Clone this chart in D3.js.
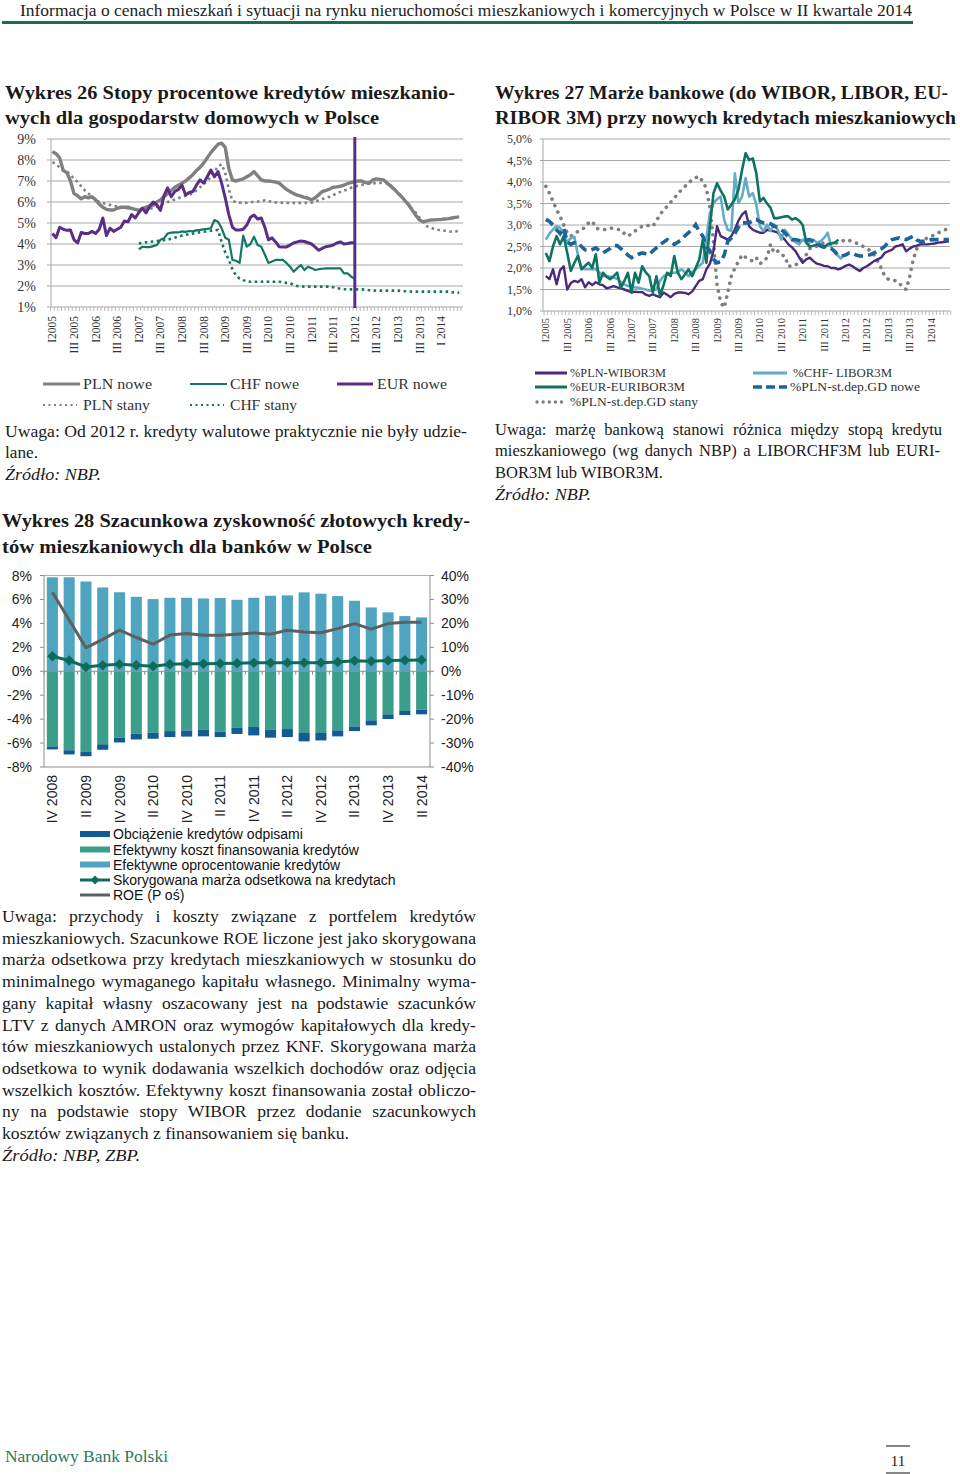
<!DOCTYPE html>
<html><head><meta charset="utf-8">
<script src="https://cdn.jsdelivr.net/npm/d3@7"></script>
<style>body{margin:0;background:#fff}svg{display:block}</style>
</head><body>
<svg id="c" width="960" height="1474"></svg>
<script>
// ---------- DATA ----------
// Chart 26 (monthly, Jan 2005 = index 0)
const labels26 = ["I2005","III 2005","I2006","III 2006","I2007","III 2007","I2008","III 2008","I2009","III 2009","I2010","III 2010","I2011","III 2011","I2012","III 2012","I2013","III 2013","I 2014"];
const yTicks26 = [1,2,3,4,5,6,7,8,9];
const plnNowe = [8.4,8.3,8.1,7.5,7.4,7.0,6.4,6.3,6.15,6.25,
 6.2,6.25,6.1,5.9,5.75,5.65,5.62,5.62,5.7,5.75,
 5.75,5.75,5.7,5.65,5.6,5.7,5.75,5.8,5.85,6.0,
 6.1,6.25,6.4,6.55,6.7,6.8,6.9,7.0,7.15,7.3,
 7.5,7.65,7.85,8.1,8.35,8.55,8.75,8.8,8.6,7.6,
 7.05,7.0,7.05,7.1,7.2,7.3,7.45,7.25,7.05,7.0,
 7.0,6.98,6.95,6.9,6.75,6.6,6.5,6.4,6.33,6.28,
 6.22,6.18,6.1,6.2,6.35,6.5,6.55,6.62,6.7,6.72,
 6.75,6.8,6.88,6.93,6.97,7.0,7.0,6.92,6.9,7.05,
 7.1,7.08,7.05,6.9,6.75,6.6,6.42,6.25,6.05,5.86,
 5.6,5.35,5.14,5.06,5.1,5.14,5.15,5.16,5.17,5.19,
 5.21,5.24,5.27,5.29];
const plnStany = [7.9,7.8,7.65,7.5,7.45,7.3,7.1,6.95,6.75,6.55,
 6.4,6.25,6.1,6.0,5.95,5.9,5.86,5.82,5.78,5.75,
 5.72,5.7,5.68,5.65,5.62,5.62,5.65,5.68,5.72,5.78,
 5.85,5.92,6.0,6.06,6.12,6.18,6.25,6.3,6.35,6.42,
 6.55,6.7,6.85,7.0,7.2,7.45,7.7,7.8,7.4,6.6,
 6.05,6.0,5.97,5.95,5.97,6.0,6.0,6.02,6.05,6.08,
 6.05,6.0,5.98,5.97,5.97,5.96,5.96,5.96,5.96,5.96,
 5.96,5.96,5.97,6.02,6.08,6.14,6.2,6.25,6.33,6.41,
 6.48,6.55,6.6,6.68,6.74,6.78,6.82,6.85,6.87,6.89,
 6.9,6.91,6.92,6.9,6.8,6.62,6.45,6.28,6.05,5.85,
 5.65,5.48,5.25,5.05,4.85,4.78,4.72,4.68,4.66,4.63,
 4.6,4.58,4.6,4.64];
const eurNowe = [4.5,4.3,4.8,4.7,4.65,4.67,4.2,4.05,4.55,4.5,
 4.5,4.6,4.5,4.7,5.24,4.4,4.75,4.6,4.7,4.8,
 5.1,5.06,5.4,5.24,5.5,5.7,5.48,5.8,6.0,5.86,
 5.6,6.3,6.67,6.25,6.5,6.6,6.8,6.33,6.45,6.5,
 6.8,7.05,6.9,7.2,7.52,7.2,7.45,6.9,6.2,5.4,
 4.8,4.67,4.67,4.7,4.9,5.27,5.38,5.19,5.24,4.8,
 4.2,4.29,4.1,3.87,3.86,3.86,3.95,4.05,4.1,4.14,
 4.12,4.06,4.0,3.85,3.7,3.8,3.87,3.9,3.95,4.05,
 4.1,4.0,4.02,4.06,4.06];
const chfStart26 = 24;
const chfNowe = [3.75,3.87,3.85,3.85,3.9,3.95,4.2,4.27,4.5,4.54,
 4.55,4.55,4.6,4.58,4.62,4.6,4.65,4.67,4.7,4.72,
 4.75,5.14,5.06,4.75,4.3,4.2,3.24,3.2,3.1,4.4,
 3.87,4.0,4.35,3.95,3.87,3.5,3.1,3.17,3.24,3.24,
 3.24,3.1,2.92,2.68,2.85,3.0,2.76,2.92,2.85,2.76,
 2.8,2.82,2.84,2.84,2.84,2.84,2.84,2.6,2.6,2.45,
 2.33];
const chfStany = [4.03,4.05,4.08,4.1,4.12,4.14,4.16,4.18,4.2,4.25,
 4.3,4.35,4.4,4.44,4.47,4.5,4.53,4.56,4.58,4.6,
 4.63,4.65,4.67,4.1,3.6,3.24,2.8,2.5,2.35,2.28,
 2.22,2.2,2.2,2.2,2.2,2.22,2.2,2.2,2.2,2.2,
 2.18,2.15,2.14,2.05,2.0,1.98,1.97,1.97,1.97,1.97,
 1.97,1.97,1.97,1.97,1.94,1.9,1.87,1.85,1.84,1.84,
 1.84,1.84,1.84,1.82,1.8,1.79,1.78,1.78,1.78,1.78,
 1.78,1.78,1.78,1.76,1.75,1.74,1.73,1.73,1.73,1.73,
 1.73,1.73,1.73,1.73,1.73,1.73,1.73,1.7,1.69,1.68];
const markerMonth26 = 84; // I 2012

// Chart 27 (monthly, Jan 2005 = index 0)
const labels27 = ["I2005","III 2005","I2006","III 2006","I2007","III 2007","I2008","III 2008","I2009","III 2009","I2010","III 2010","I2011","III 2011","I2012","III 2012","I2013","III 2013","I2014"];
const yTicks27 = [1,1.5,2,2.5,3,3.5,4,4.5,5];
const wibor = [1.81,1.74,1.97,1.62,1.95,2.04,1.5,1.65,1.7,1.67,
 1.74,1.55,1.67,1.6,1.67,1.62,1.6,1.53,1.55,1.58,
 1.55,1.53,1.5,1.47,1.43,1.45,1.44,1.44,1.38,1.35,
 1.39,1.35,1.32,1.43,1.38,1.32,1.4,1.43,1.43,1.42,
 1.39,1.45,1.58,1.7,1.74,1.97,2.1,2.4,2.97,2.74,
 2.7,2.66,2.74,2.9,3.1,3.24,3.32,2.97,2.89,2.85,
 2.82,2.82,2.89,2.87,2.85,2.82,2.75,2.66,2.55,2.48,
 2.39,2.25,2.12,2.2,2.24,2.16,2.1,2.08,2.05,2.04,
 2.0,2.0,1.97,2.0,2.05,2.08,2.04,1.98,1.93,2.0,
 2.04,2.1,2.16,2.2,2.24,2.35,2.39,2.42,2.5,2.52,
 2.55,2.39,2.45,2.5,2.52,2.55,2.55,2.55,2.56,2.57,
 2.59,2.6,2.61,2.62];
const libor = [2.66,2.8,2.9,2.97,2.93,2.8,2.59,2.7,2.72,2.3,
 2.0,1.97,1.97,1.97,1.97,1.9,1.81,1.81,1.8,1.78,
 1.75,1.68,1.62,1.58,1.57,1.55,1.54,1.52,1.5,1.47,
 1.48,1.5,1.7,1.81,1.85,1.89,1.89,1.9,1.97,1.9,
 1.81,1.9,1.97,2.05,2.12,2.7,3.28,3.51,3.6,3.66,
 3.12,2.89,2.86,4.2,3.51,3.66,4.09,3.66,3.74,3.47,
 2.97,2.86,3.01,2.86,3.01,2.89,2.66,2.89,2.78,2.66,
 2.6,2.55,2.66,2.6,2.59,2.66,2.59,2.62,2.7,2.82,
 2.5,2.35,2.28,2.2];
const euribor = [2.35,2.16,2.5,2.74,2.55,2.74,2.35,1.93,2.12,2.28,
 1.97,2.05,2.12,2.0,2.32,1.66,1.89,1.8,1.74,1.81,
 1.89,1.54,1.7,1.89,1.43,1.89,1.66,2.04,1.9,1.81,
 1.43,1.81,1.35,1.6,1.89,1.81,2.28,1.89,1.74,1.85,
 1.97,1.81,2.0,2.2,2.66,2.12,2.97,3.74,3.97,3.8,
 3.66,3.36,3.47,3.6,3.82,4.28,4.67,4.51,4.55,4.2,
 3.55,3.63,3.5,3.4,3.16,3.16,3.18,3.2,3.2,3.13,
 3.16,3.1,3.0,2.59,2.5,2.52,2.55,2.5,2.47,2.55,
 2.57,2.59,2.66];
const gdNowe = [3.13,3.08,3.0,2.89,2.8,2.93,2.6,2.55,2.59,2.59,
 2.5,2.42,2.4,2.43,2.47,2.4,2.35,2.4,2.45,2.52,
 2.52,2.45,2.38,2.3,2.24,2.28,2.32,2.35,2.33,2.31,
 2.4,2.47,2.55,2.6,2.66,2.6,2.55,2.6,2.66,2.75,
 2.82,2.9,3.01,2.85,2.74,2.5,2.4,2.2,2.12,2.14,
 2.3,2.62,2.7,2.8,2.95,3.05,3.05,3.05,3.1,3.13,
 3.08,3.05,3.05,3.03,2.97,2.95,2.89,2.82,2.72,2.66,
 2.66,2.64,2.62,2.65,2.66,2.62,2.59,2.52,2.5,2.5,
 2.45,2.39,2.28,2.28,2.3,2.35,2.35,2.3,2.28,2.28,
 2.3,2.31,2.35,2.39,2.44,2.5,2.6,2.66,2.68,2.7,
 2.68,2.66,2.7,2.74,2.65,2.62,2.62,2.64,2.66,2.66,
 2.66,2.66,2.66,2.66];
const gdStany = [3.9,3.74,3.55,3.36,3.2,3.0,2.82,2.74,2.8,2.85,
 2.89,2.95,3.05,3.09,2.93,2.9,2.89,2.9,2.93,2.92,
 2.9,2.89,2.8,2.74,2.8,2.86,2.92,2.97,3.0,2.98,
 2.97,3.1,3.24,3.35,3.43,3.53,3.63,3.72,3.82,3.9,
 3.97,4.06,4.1,4.13,4.0,3.86,3.4,2.6,1.6,1.2,
 1.08,1.43,1.81,2.0,2.15,2.31,2.25,2.2,2.16,2.24,
 2.1,2.15,2.24,2.55,2.35,2.39,2.3,2.28,2.04,2.05,
 2.06,2.16,2.2,2.31,2.45,2.5,2.5,2.55,2.59,2.57,
 2.55,2.57,2.59,2.62,2.66,2.64,2.62,2.58,2.55,2.5,
 2.45,2.4,2.3,2.16,2.0,1.81,1.74,1.74,1.7,1.66,
 1.55,1.5,1.8,2.2,2.45,2.55,2.66,2.7,2.74,2.77,
 2.82,2.85,2.89,2.92];

// Chart 28 (quarterly)
const cats28 = ["IV 2008","I 2009","II 2009","III 2009","IV 2009","I 2010","II 2010","III 2010","IV 2010","I 2011","II 2011","III 2011","IV 2011","I 2012","II 2012","III 2012","IV 2012","I 2013","II 2013","III 2013","IV 2013","I 2014","II 2014"];
const oprocentowanie = [7.85,7.85,7.5,7.0,6.6,6.22,6.03,6.14,6.14,6.08,6.12,5.97,6.14,6.31,6.34,6.59,6.48,6.28,5.89,5.33,4.92,4.61,4.5];
const kosztFin = [-6.28,-6.6,-6.74,-6.1,-5.55,-5.22,-5.13,-5.0,-4.96,-4.9,-5.05,-4.7,-4.66,-4.89,-4.83,-5.16,-5.16,-4.94,-4.61,-4.1,-3.6,-3.32,-3.21];
const odpisy = [-0.25,-0.35,-0.36,-0.46,-0.4,-0.48,-0.51,-0.5,-0.5,-0.54,-0.45,-0.54,-0.7,-0.66,-0.67,-0.7,-0.62,-0.5,-0.39,-0.42,-0.39,-0.34,-0.39];
const marza = [1.25,0.9,0.36,0.5,0.58,0.5,0.42,0.58,0.62,0.62,0.64,0.66,0.7,0.7,0.72,0.72,0.72,0.78,0.88,0.84,0.9,0.92,0.95];
const roe = [33,21.4,9.8,13.3,17.2,14.1,11.3,15.1,15.8,15,15,15.5,16,15.5,17.1,16.4,16.1,17.8,19.9,17.6,19.9,20.5,20.5];
const yTicksL28 = [-8,-6,-4,-2,0,2,4,6,8];
const yTicksR28 = [-40,-30,-20,-10,0,10,20,30,40];

// ---------- DRAWING ----------
const SERIF = "'Liberation Serif','Times New Roman',serif";
const SANS = "'Liberation Sans',Arial,sans-serif";
const svg = d3.select('#c');
svg.append('rect').attr('width',960).attr('height',1474).attr('fill','#fff');

function T(x,y,s,o={}){
  const t = svg.append('text').attr('x',x).attr('y',y).text(s)
    .attr('font-family',o.f||SERIF).attr('font-size',o.s||16).attr('fill',o.c||'#1a1a1a');
  if(o.w) t.attr('font-weight',o.w);
  if(o.i) t.attr('font-style','italic');
  if(o.a) t.attr('text-anchor',o.a);
  if(o.len) t.attr('textLength',o.len).attr('lengthAdjust','spacingAndGlyphs');
  return t;
}
function J(x,y,s,W,k,o={}){
  const t = T(0,0,s,o).attr('transform',`translate(${x},${y}) scale(${k},1)`);
  const w0 = t.node().getComputedTextLength();
  const n = (s.match(/ /g)||[]).length;
  if(n) t.attr('word-spacing',(W/k - w0)/n);
  return t;
}
function kFor(s,W,o={}){
  const t = T(0,0,s,o); const w = t.node().getComputedTextLength(); t.remove(); return W/w;
}

// Header
T(20,16,"Informacja o cenach mieszkań i sytuacji na rynku nieruchomości mieszkaniowych i komercyjnych w Polsce w II kwartale 2014",{s:17,len:892,c:'#222'});
svg.append('line').attr('x1',2).attr('x2',913).attr('y1',22.5).attr('y2',22.5).attr('stroke','#1d6b50').attr('stroke-width',3);

// Titles
T(5,99,"Wykres 26 Stopy procentowe kredytów mieszkanio-",{s:19,w:'bold',len:450});
T(5,124,"wych dla gospodarstw domowych w Polsce",{s:19,w:'bold',len:374});
T(495,99,"Wykres 27 Marże bankowe (do WIBOR, LIBOR, EU-",{s:19,w:'bold',len:453});
T(495,124,"RIBOR 3M) przy nowych kredytach mieszkaniowych",{s:19,w:'bold',len:461});
T(2,527,"Wykres 28 Szacunkowa zyskowność złotowych kredy-",{s:19,w:'bold',len:468});
T(2,553,"tów mieszkaniowych dla banków w Polsce",{s:19,w:'bold',len:370});

// ---------- Chart 26 ----------
const x26 = d3.scaleLinear().domain([-0.4,114]).range([51,462.8]);
const y26 = d3.scaleLinear().domain([1,9]).range([307,139]);
const g26 = svg.append('g');
g26.selectAll('.gr').data(yTicks26).join('line')
  .attr('x1',47).attr('x2',463).attr('y1',d=>y26(d)).attr('y2',d=>y26(d))
  .attr('stroke','#a8a8a8').attr('stroke-width',1);
g26.append('line').attr('x1',51).attr('x2',51).attr('y1',139).attr('y2',307).attr('stroke','#a8a8a8');
g26.selectAll('.mt').data(d3.range(0,115)).join('line')
  .attr('x1',d=>x26(d-0.5)).attr('x2',d=>x26(d-0.5)).attr('y1',307).attr('y2',311)
  .attr('stroke','#a8a8a8').attr('stroke-width',0.8);
g26.selectAll('.yl').data(yTicks26).join('text')
  .attr('x',36).attr('y',d=>y26(d)).attr('dy','0.35em').attr('text-anchor','end')
  .attr('font-family',SERIF).attr('font-size',14).attr('fill','#333').text(d=>d+'%');
g26.selectAll('.xl').data(labels26).join('text')
  .attr('transform',(d,i)=>`translate(${x26(i*6)+4},316) rotate(-90)`)
  .attr('text-anchor','end').attr('font-family',SERIF).attr('font-size',11.5).attr('fill','#333').text(d=>d);

const line26 = (start)=>d3.line().defined(d=>d!=null).x((d,i)=>x26(i+start)).y(d=>y26(d));
const C26 = {gray:'#808080', teal:'#137764', purple:'#5a2d86'};
g26.append('path').datum(plnStany).attr('d',line26(0)).attr('fill','none').attr('stroke',C26.gray).attr('stroke-width',2.6).attr('stroke-dasharray','2.6,3.4');
g26.append('path').datum(chfStany).attr('d',line26(chfStart26)).attr('fill','none').attr('stroke',C26.teal).attr('stroke-width',2.6).attr('stroke-dasharray','2.6,3.4');
g26.append('path').datum(chfNowe).attr('d',line26(chfStart26)).attr('fill','none').attr('stroke',C26.teal).attr('stroke-width',2.2).attr('stroke-linejoin','round');
g26.append('path').datum(plnNowe).attr('d',line26(0)).attr('fill','none').attr('stroke',C26.gray).attr('stroke-width',3.4).attr('stroke-linejoin','round');
g26.append('path').datum(eurNowe).attr('d',line26(0)).attr('fill','none').attr('stroke',C26.purple).attr('stroke-width',3).attr('stroke-linejoin','round');
g26.append('line').attr('x1',x26(markerMonth26)).attr('x2',x26(markerMonth26)).attr('y1',137).attr('y2',308)
  .attr('stroke',C26.purple).attr('stroke-width',3);

// Legend 26
function legLine(x1,x2,y,col,w,dash){
  const l = svg.append('line').attr('x1',x1).attr('x2',x2).attr('y1',y).attr('y2',y).attr('stroke',col).attr('stroke-width',w);
  if(dash) l.attr('stroke-dasharray',dash);
  return l;
}
legLine(43,80,384,C26.gray,3);
T(83,389,"PLN nowe",{s:15,len:69,c:'#333'});
legLine(190,227,384,C26.teal,2);
T(230,389,"CHF nowe",{s:15,len:69,c:'#333'});
legLine(337,373,384,C26.purple,3);
T(377,389,"EUR nowe",{s:15,len:70,c:'#333'});
legLine(43,77,405,C26.gray,2.2,'2,3.5');
T(83,410,"PLN stany",{s:15,len:67,c:'#333'});
legLine(190,224,405,C26.teal,2.2,'2,3.5');
T(230,410,"CHF stany",{s:15,len:67,c:'#333'});

// Notes 26
T(5,437,"Uwaga: Od 2012 r. kredyty walutowe praktycznie nie były udzie-",{s:16,len:462});
T(5,458,"lane.",{s:16,len:33});
T(5,480,"Źródło: NBP.",{s:16,i:true,len:96});

// ---------- Chart 27 ----------
const x27 = d3.scaleLinear().domain([-0.8,113.3]).range([543,950]);
const y27 = d3.scaleLinear().domain([1,5]).range([311,139]);
const g27 = svg.append('g');
g27.selectAll('.gr').data(yTicks27).join('line')
  .attr('x1',540).attr('x2',950).attr('y1',d=>y27(d)).attr('y2',d=>y27(d))
  .attr('stroke','#a8a8a8').attr('stroke-width',1);
g27.append('line').attr('x1',543).attr('x2',543).attr('y1',139).attr('y2',311).attr('stroke','#a8a8a8');
g27.selectAll('.mt').data(d3.range(0,115)).join('line')
  .attr('x1',d=>x27(d-0.5)).attr('x2',d=>x27(d-0.5)).attr('y1',311).attr('y2',315)
  .attr('stroke','#a8a8a8').attr('stroke-width',0.8);
g27.selectAll('.yl').data(yTicks27).join('text')
  .attr('x',532).attr('y',d=>y27(d)).attr('dy','0.35em').attr('text-anchor','end')
  .attr('font-family',SERIF).attr('font-size',12).attr('fill','#333').text(d=>d.toFixed(1).replace('.',',')+'%');
g27.selectAll('.xl').data(labels27).join('text')
  .attr('transform',(d,i)=>`translate(${x27(i*6)+3.5},318) rotate(-90)`)
  .attr('text-anchor','end').attr('font-family',SERIF).attr('font-size',10.5).attr('fill','#333').text(d=>d);

const line27 = d3.line().defined(d=>d!=null).x((d,i)=>x27(i)).y(d=>y27(d));
const C27 = {purple:'#4b2a7b', light:'#62adc4', teal:'#107261', blue:'#1d6598', gray:'#7f7f7f'};
g27.append('path').datum(gdStany).attr('d',line27).attr('fill','none').attr('stroke',C27.gray).attr('stroke-width',3.6).attr('stroke-linecap','round').attr('stroke-dasharray','0.1,7');
g27.append('path').datum(wibor).attr('d',line27).attr('fill','none').attr('stroke',C27.purple).attr('stroke-width',2.4).attr('stroke-linejoin','round');
g27.append('path').datum(libor).attr('d',line27).attr('fill','none').attr('stroke',C27.light).attr('stroke-width',2.6).attr('stroke-linejoin','round');
g27.append('path').datum(euribor).attr('d',line27).attr('fill','none').attr('stroke',C27.teal).attr('stroke-width',2.6).attr('stroke-linejoin','round');
g27.append('path').datum(gdNowe).attr('d',line27).attr('fill','none').attr('stroke',C27.blue).attr('stroke-width',3.6).attr('stroke-dasharray','9,5');

// Legend 27
legLine(535,567,373,C27.purple,3);
T(570,377,"%PLN-WIBOR3M",{s:12.5,len:96,c:'#333'});
legLine(753,787,373,C27.light,3);
T(793,377,"%CHF- LIBOR3M",{s:12.5,len:99,c:'#333'});
legLine(535,567,387,C27.teal,3);
T(570,391,"%EUR-EURIBOR3M",{s:12.5,len:115,c:'#333'});
legLine(753,787,387,C27.blue,3.6,'9,4');
T(790,391,"%PLN-st.dep.GD nowe",{s:12.5,len:130,c:'#333'});
legLine(537,567,402,C27.gray,3.4,'0.1,6').attr('stroke-linecap','round');
T(570,406,"%PLN-st.dep.GD stany",{s:12.5,len:128,c:'#333'});

// Notes 27
const k27 = kFor("BOR3M lub WIBOR3M.",168);
J(495,435,"Uwaga: marżę bankową stanowi różnica między stopą kredytu",447,k27);
J(495,456,"mieszkaniowego (wg danych NBP) a LIBORCHF3M lub EURI-",445,k27);
J(495,478,"BOR3M lub WIBOR3M.",168,k27);
T(495,500,"Źródło: NBP.",{s:16,i:true,len:96});

// ---------- Chart 28 ----------
const x28 = d3.scaleBand().domain(cats28).range([44,430]).paddingInner(0.34).paddingOuter(0.17);
const yL = d3.scaleLinear().domain([-8,8]).range([767,575.5]);
const yR = d3.scaleLinear().domain([-40,40]).range([767,575.5]);
const g28 = svg.append('g');
const C28 = {light:'#4fa5c0', teal:'#3b9e8b', dark:'#125c93', marza:'#0d6b5a', roe:'#5f5f5f'};
g28.selectAll('.b1').data(oprocentowanie).join('rect')
  .attr('x',(d,i)=>x28(cats28[i])).attr('width',x28.bandwidth())
  .attr('y',d=>yL(d)).attr('height',d=>yL(0)-yL(d)).attr('fill',C28.light);
g28.selectAll('.b2').data(kosztFin).join('rect')
  .attr('x',(d,i)=>x28(cats28[i])).attr('width',x28.bandwidth())
  .attr('y',yL(0)).attr('height',d=>yL(d)-yL(0)).attr('fill',C28.teal);
g28.selectAll('.b3').data(odpisy).join('rect')
  .attr('x',(d,i)=>x28(cats28[i])).attr('width',x28.bandwidth())
  .attr('y',(d,i)=>yL(kosztFin[i])).attr('height',(d,i)=>yL(kosztFin[i]+d)-yL(kosztFin[i])).attr('fill',C28.dark);
// frame
const axc = '#8c8c8c';
g28.append('line').attr('x1',44).attr('x2',430).attr('y1',575.5).attr('y2',575.5).attr('stroke','#b0b0b0');
g28.append('line').attr('x1',44).attr('x2',430).attr('y1',767).attr('y2',767).attr('stroke',axc);
g28.append('line').attr('x1',44).attr('x2',44).attr('y1',575.5).attr('y2',767).attr('stroke',axc);
g28.append('line').attr('x1',430).attr('x2',430).attr('y1',575.5).attr('y2',767).attr('stroke',axc);
g28.append('line').attr('x1',44).attr('x2',430).attr('y1',yL(0)).attr('y2',yL(0)).attr('stroke',axc);
g28.selectAll('.zt').data(d3.range(0,24)).join('line')
  .attr('x1',d=>44+d*x28.step()).attr('x2',d=>44+d*x28.step()).attr('y1',yL(0)).attr('y2',yL(0)+3.5).attr('stroke',axc);
g28.selectAll('.lt').data(yTicksL28).join('line').attr('x1',40).attr('x2',44).attr('y1',d=>yL(d)).attr('y2',d=>yL(d)).attr('stroke',axc);
g28.selectAll('.rt').data(yTicksR28).join('line').attr('x1',430).attr('x2',434).attr('y1',d=>yR(d)).attr('y2',d=>yR(d)).attr('stroke',axc);
g28.selectAll('.yl').data(yTicksL28).join('text')
  .attr('x',32).attr('y',d=>yL(d)).attr('dy','0.36em').attr('text-anchor','end')
  .attr('font-family',SANS).attr('font-size',14).attr('fill','#222').text(d=>d+'%');
g28.selectAll('.yr').data(yTicksR28).join('text')
  .attr('x',441).attr('y',d=>yR(d)).attr('dy','0.36em').attr('text-anchor','start')
  .attr('font-family',SANS).attr('font-size',14).attr('fill','#222').text(d=>d+'%');
g28.selectAll('.xl').data(cats28.filter((d,i)=>i%2===0)).join('text')
  .attr('transform',d=>`translate(${x28(d)+x28.bandwidth()/2+5},775) rotate(-90)`)
  .attr('text-anchor','end').attr('font-family',SANS).attr('font-size',14).attr('fill','#222').text(d=>d);
const cx28 = (i)=>x28(cats28[i])+x28.bandwidth()/2;
g28.append('path').datum(roe).attr('d',d3.line().x((d,i)=>cx28(i)).y(d=>yR(d)))
  .attr('fill','none').attr('stroke',C28.roe).attr('stroke-width',3).attr('stroke-linejoin','round');
g28.append('path').datum(marza).attr('d',d3.line().x((d,i)=>cx28(i)).y(d=>yL(d)))
  .attr('fill','none').attr('stroke',C28.marza).attr('stroke-width',3);
g28.selectAll('.dm').data(marza).join('path')
  .attr('d',d3.symbol(d3.symbolDiamond2,70))
  .attr('transform',(d,i)=>`translate(${cx28(i)},${yL(d)})`).attr('fill',C28.marza);

// Legend 28
const leg28 = [
  {t:"Obciążenie kredytów odpisami", c:C28.dark, k:'rect', y:834},
  {t:"Efektywny koszt finansowania kredytów", c:C28.teal, k:'rect', y:849.5},
  {t:"Efektywne oprocentowanie kredytów", c:C28.light, k:'rect', y:864.5},
  {t:"Skorygowana marża odsetkowa na kredytach", c:C28.marza, k:'dia', y:880},
  {t:"ROE (P oś)", c:C28.roe, k:'line', y:895}
];
leg28.forEach(o=>{
  if(o.k==='rect') svg.append('rect').attr('x',80).attr('y',o.y-3).attr('width',30).attr('height',6).attr('fill',o.c);
  else {
    legLine(80,110,o.y,o.c,3);
    if(o.k==='dia') svg.append('path').attr('d',d3.symbol(d3.symbolDiamond2,50)).attr('transform',`translate(95,${o.y})`).attr('fill',o.c);
  }
  T(113,o.y+5,o.t,{f:SANS,s:14,c:'#111'});
});

// Notes 28
const para = [
 "Uwaga: przychody i koszty związane z portfelem kredytów",
 "mieszkaniowych. Szacunkowe ROE liczone jest jako skorygowana",
 "marża odsetkowa przy kredytach mieszkaniowych w stosunku do",
 "minimalnego wymaganego kapitału własnego. Minimalny wyma-",
 "gany kapitał własny oszacowany jest na podstawie szacunków",
 "LTV z danych AMRON oraz wymogów kapitałowych dla kredy-",
 "tów mieszkaniowych ustalonych przez KNF. Skorygowana marża",
 "odsetkowa to wynik dodawania wszelkich dochodów oraz odjęcia",
 "wszelkich kosztów. Efektywny koszt finansowania został obliczo-",
 "ny na podstawie stopy WIBOR przez dodanie szacunkowych"
];
const lastLine = "kosztów związanych z finansowaniem się banku.";
const k28 = kFor(lastLine,347);
para.forEach((s,i)=>J(2,922+i*21.7,s,474,k28));
J(2,922+10*21.7,lastLine,347,k28);
T(2,922+11*21.7,"Źródło: NBP, ZBP.",{s:16,i:true,len:138});

// Footer
T(5,1462,"Narodowy Bank Polski",{s:16,len:163,c:'#2a7a5c'});
svg.append('line').attr('x1',886).attr('x2',910).attr('y1',1446).attr('y2',1446).attr('stroke','#333').attr('stroke-width',1.2);
svg.append('line').attr('x1',886).attr('x2',910).attr('y1',1473).attr('y2',1473).attr('stroke','#333').attr('stroke-width',1.2);
T(898,1466,"11",{s:15,a:'middle',c:'#222'});
</script>
</body></html>
